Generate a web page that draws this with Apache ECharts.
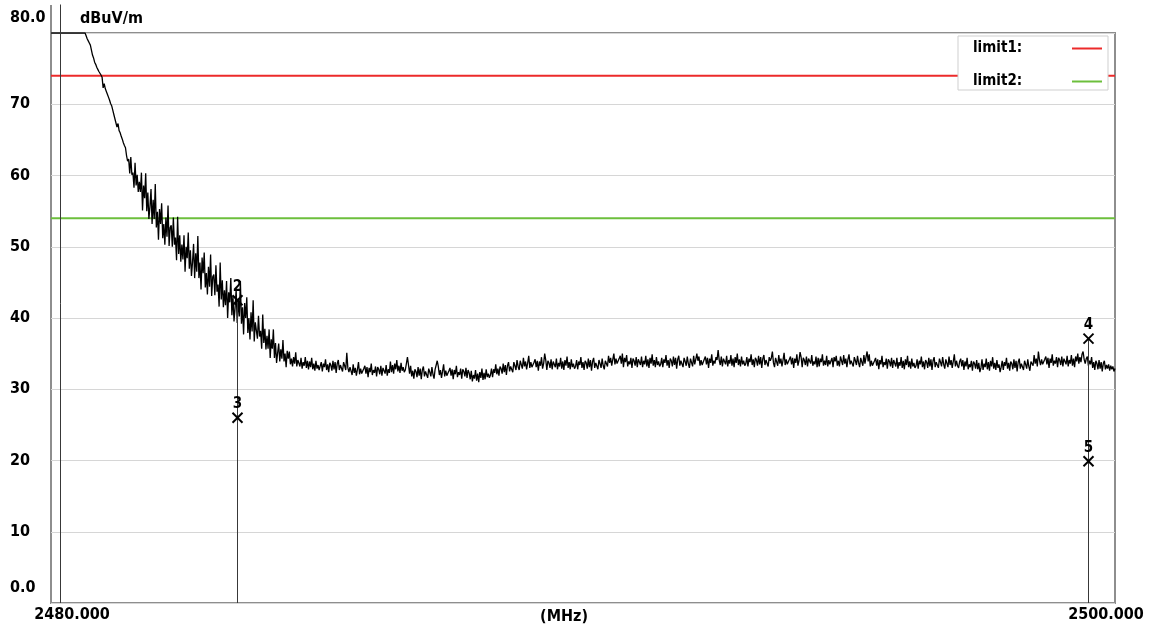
<!DOCTYPE html>
<html>
<head>
<meta charset="utf-8">
<script src="https://cdn.jsdelivr.net/npm/echarts@6/dist/echarts.min.js"></script>
<style>
  html, body { margin: 0; padding: 0; background: #fff; }
  #chart { width: 1149px; height: 629px; }
</style>
</head>
<body>
<div id="chart"></div>
<script>
// Sweep span (MHz); 1001 sweep points, level in dBuV/m (display clamps at 80)
const sweepStart = 2480.0;
const sweepStop = 2500.0;
const level = [
  80, 80, 80, 80, 80, 80, 80, 80, 80, 80, 80, 80, 80, 80, 80, 80, 80, 80, 80, 80,
  80, 80, 80, 80, 80, 80, 80, 80, 80, 80, 80, 80, 80,
  79.6, 79.2, 78.9, 78.6, 78.3, 77.6, 76.9, 76.5, 75.9, 75.6,
  75.2, 74.9, 74.6, 74.4, 74.1, 73.8, 72.3, 72.9, 72.2, 71.8,
  71.4, 71.0, 70.6, 70.1, 69.8, 69.2, 68.6, 68.0, 67.4, 66.8,
  67.3, 66.3, 66.0, 65.5, 65.1, 64.6, 64.2, 63.9, 62.8, 62.0,
  62.3, 60.3, 62.6, 60.1, 60.4, 58.3, 61.8, 58.6, 60.1, 57.7, 59.1, 57.7, 60.4, 55.1, 58.6, 56.8, 60.3, 55.0, 57.6, 53.9,
  55.6, 58.1, 53.2, 56.6, 53.9, 58.8, 52.7, 54.9, 51.0, 55.3, 53.2, 56.1, 51.2, 53.2, 50.3, 54.1, 51.4, 55.8, 50.1, 52.7,
  53.0, 50.0, 54.1, 50.3, 51.3, 48.1, 54.2, 49.0, 51.6, 47.9, 50.3, 48.2, 51.6, 46.5, 50.0, 48.4, 52.0, 46.9, 49.5, 45.9,
  47.8, 50.4, 45.6, 49.1, 46.5, 51.5, 45.6, 47.8, 44.0, 48.5, 46.3, 49.2, 44.3, 46.3, 43.3, 47.2, 44.4, 48.9, 43.1, 45.8,
  46.1, 43.2, 47.4, 43.7, 44.7, 41.6, 47.8, 42.6, 45.3, 41.5, 43.9, 41.8, 45.2, 40.0, 43.6, 42.2, 45.6, 40.4, 43.1, 39.5,
  41.4, 44.0, 39.3, 42.7, 40.2, 45.2, 39.2, 41.5, 37.7, 42.1, 40.0, 42.9, 37.9, 40.0, 37.0, 40.8, 38.1, 42.5, 36.7, 39.4,
  39.4, 37.1, 40.3, 37.4, 38.2, 35.7, 40.5, 36.5, 38.5, 35.6, 37.5, 35.7, 38.4, 34.4, 37.0, 35.7, 38.4, 34.4, 36.5, 33.7,
  35.1, 36.4, 33.9, 35.6, 34.3, 36.9, 33.9, 35.0, 33.1, 35.4, 34.3, 35.3, 33.5, 34.3, 33.2, 34.5, 33.6, 35.2, 33.2, 34.1,
  34.1, 33.2, 34.4, 32.9, 33.8, 33.3, 34.5, 33.0, 34.0, 32.8, 33.9, 33.1, 34.4, 32.8, 33.6, 32.6, 34.0, 32.9, 33.4, 32.7,
  32.9, 33.8, 32.5, 33.6, 33.1, 34.2, 32.7, 33.5, 32.4, 33.7, 33.4, 32.6, 34.0, 32.8, 33.8, 32.3, 33.6, 34.1, 32.7, 33.4,
  33.4, 32.5, 33.8, 33.3, 32.7, 35.1, 33.0, 32.4, 33.1, 32.9, 32.0, 33.5, 32.3, 33.0, 31.9, 32.8, 33.8, 32.1, 32.9, 32.2,
  32.0, 32.9, 33.3, 32.2, 33.1, 31.7, 33.0, 32.4, 33.6, 32.0, 32.7, 32.3, 33.2, 31.8, 33.1, 32.8, 32.1, 33.3, 31.9, 33.0,
  33.1, 32.2, 33.4, 31.9, 32.8, 32.3, 33.9, 32.4, 33.4, 32.2, 33.6, 32.8, 34.1, 32.5, 33.3, 32.3, 33.7, 32.6, 33.1, 32.4,
  32.7, 33.6, 34.5, 33.4, 32.2, 33.3, 31.8, 32.6, 31.5, 32.8, 32.5, 31.7, 33.1, 31.9, 32.9, 31.4, 32.7, 33.2, 31.8, 32.5,
  32.5, 31.6, 32.9, 32.4, 31.8, 33.1, 32.1, 31.5, 32.8, 32.6, 34.0, 33.2, 32.0, 32.7, 31.6, 32.5, 33.5, 31.8, 32.6, 31.9,
  31.7, 32.6, 33.0, 31.9, 32.8, 31.4, 32.7, 32.1, 33.3, 31.7, 32.4, 32.0, 32.9, 31.5, 32.8, 32.5, 31.8, 33.0, 31.6, 32.7,
  32.3, 31.4, 32.6, 31.1, 32.0, 31.5, 32.7, 31.2, 32.2, 31.0, 32.4, 31.6, 32.9, 31.3, 32.3, 31.4, 32.8, 31.7, 32.2, 31.6,
  32.0, 32.9, 31.7, 32.8, 32.3, 33.5, 32.1, 32.9, 31.9, 33.2, 32.9, 32.2, 33.6, 32.4, 33.4, 32.0, 33.3, 33.8, 32.5, 33.2,
  33.3, 32.4, 33.8, 33.3, 32.7, 34.1, 33.2, 32.7, 34.0, 33.8, 32.9, 34.4, 33.2, 33.9, 32.8, 33.7, 34.7, 33.0, 33.8, 33.1,
  32.9, 33.8, 34.2, 33.1, 34.0, 32.6, 33.9, 33.3, 34.5, 32.9, 33.6, 35.0, 34.1, 32.7, 34.0, 33.7, 33.0, 34.2, 32.8, 33.9,
  34.0, 33.1, 34.3, 32.8, 33.7, 33.2, 34.4, 32.9, 33.9, 32.7, 34.1, 33.3, 34.6, 33.0, 33.8, 32.8, 34.2, 33.1, 33.6, 32.9,
  33.2, 34.1, 32.8, 33.9, 33.4, 34.5, 33.0, 33.8, 32.7, 34.0, 33.7, 32.9, 34.3, 33.1, 34.1, 32.6, 33.9, 34.4, 33.0, 33.7,
  33.7, 32.8, 34.1, 33.6, 33.0, 34.3, 33.3, 32.8, 34.0, 33.9, 33.2, 34.7, 33.7, 34.4, 33.3, 34.2, 35.0, 33.5, 34.3, 33.6,
  33.4, 34.3, 34.7, 33.6, 35.0, 33.1, 34.4, 33.8, 34.8, 33.2, 33.9, 33.5, 34.4, 33.0, 34.3, 34.0, 33.3, 34.5, 33.1, 34.2,
  34.3, 33.4, 34.6, 33.1, 34.0, 33.5, 34.7, 33.2, 34.2, 33.0, 34.4, 33.6, 34.9, 33.3, 34.1, 33.1, 34.5, 33.4, 33.9, 33.2,
  33.5, 34.4, 33.1, 34.2, 33.7, 34.8, 33.3, 34.1, 33.0, 34.3, 34.0, 33.2, 34.6, 33.4, 34.4, 32.9, 34.2, 34.7, 33.3, 34.0,
  34.0, 33.1, 34.4, 33.9, 33.3, 34.6, 33.6, 33.0, 34.3, 34.1, 33.2, 34.7, 33.5, 34.2, 35.0, 34.0, 34.6, 33.3, 34.1, 33.4,
  33.3, 34.2, 34.6, 33.5, 34.4, 33.0, 34.3, 33.7, 34.9, 33.3, 34.0, 33.6, 34.5, 34.1, 35.5, 34.1, 33.4, 34.6, 33.2, 34.3,
  34.4, 33.5, 34.7, 33.2, 34.1, 33.6, 34.8, 33.3, 34.3, 33.1, 34.5, 33.7, 35.0, 33.4, 34.2, 33.2, 34.6, 33.5, 34.0, 33.3,
  33.6, 34.5, 33.2, 34.3, 33.8, 34.9, 33.4, 34.2, 33.1, 34.4, 34.1, 33.3, 34.7, 33.5, 34.5, 33.0, 34.3, 34.8, 33.4, 34.1,
  34.1, 33.2, 34.5, 34.0, 34.4, 35.3, 33.7, 33.1, 34.4, 34.2, 33.3, 34.8, 33.6, 34.3, 33.2, 34.1, 35.1, 33.4, 34.2, 33.5,
  33.3, 34.2, 34.6, 33.5, 34.4, 33.0, 34.3, 33.7, 34.9, 33.3, 34.0, 35.2, 34.5, 33.1, 34.4, 34.1, 33.4, 34.6, 33.2, 34.3,
  34.2, 33.6, 34.8, 33.3, 33.9, 33.5, 34.6, 33.1, 34.4, 33.2, 34.3, 33.8, 34.9, 33.3, 34.0, 33.4, 34.7, 33.2, 34.1, 33.5,
  33.7, 34.4, 33.1, 34.5, 33.9, 34.7, 33.3, 34.0, 33.2, 34.6, 34.0, 33.4, 34.8, 33.6, 34.3, 33.1, 34.2, 34.9, 33.5, 34.0,
  34.1, 33.2, 34.5, 34.0, 33.4, 34.7, 33.7, 33.1, 34.4, 34.2, 33.3, 34.8, 33.6, 34.5, 35.3, 33.9, 34.9, 33.2, 34.0, 33.3,
  33.1, 34.0, 34.4, 33.3, 34.2, 32.8, 34.1, 33.5, 34.7, 33.1, 33.8, 33.4, 34.3, 32.9, 34.2, 33.9, 33.2, 34.4, 33.0, 34.1,
  34.1, 33.2, 34.4, 32.9, 33.8, 33.3, 34.5, 33.0, 34.0, 32.8, 34.2, 33.4, 34.7, 33.1, 33.9, 32.9, 34.3, 33.2, 33.7, 33.0,
  33.3, 34.2, 32.9, 34.0, 33.5, 34.6, 33.1, 33.9, 32.8, 34.1, 33.8, 33.0, 34.4, 33.2, 34.2, 32.7, 34.0, 34.5, 33.1, 33.8,
  33.9, 33.0, 34.3, 33.8, 33.2, 34.5, 33.5, 32.9, 34.2, 34.0, 33.1, 34.6, 33.4, 34.1, 33.0, 33.9, 34.9, 33.2, 34.0, 33.3,
  33.0, 33.9, 34.3, 33.2, 34.1, 32.7, 33.9, 33.2, 34.4, 32.8, 33.5, 33.1, 34.0, 32.6, 33.9, 33.6, 32.9, 34.1, 32.8, 33.7,
  32.4, 33.0, 34.2, 32.7, 33.6, 33.1, 34.3, 32.8, 33.8, 32.6, 34.0, 33.2, 34.5, 32.9, 33.7, 32.7, 34.1, 33.0, 33.5, 32.4,
  33.1, 34.0, 32.7, 33.8, 33.3, 34.4, 32.9, 33.7, 32.6, 33.9, 33.6, 32.8, 34.2, 33.0, 34.0, 32.5, 33.8, 34.3, 32.9, 33.6,
  33.6, 32.7, 34.0, 33.5, 32.9, 34.2, 33.2, 32.6, 33.9, 33.7, 33.3, 34.8, 33.6, 34.3, 33.2, 35.3, 34.1, 33.4, 34.2, 33.5,
  33.3, 34.2, 34.6, 33.5, 34.4, 33.0, 34.3, 33.7, 34.9, 33.3, 34.0, 33.6, 34.5, 33.1, 34.4, 34.1, 33.4, 34.6, 33.2, 34.3,
  34.4, 33.5, 34.7, 33.2, 34.1, 33.6, 34.8, 33.3, 34.3, 33.1, 34.6, 33.9, 35.0, 33.6, 34.5, 33.8, 34.9, 35.3, 34.2, 33.6,
  34.3, 34.6, 33.3, 34.0, 33.5, 34.5, 33.0, 33.8, 32.7, 34.0, 33.6, 32.8, 34.1, 32.9, 33.8, 32.5, 33.6, 34.0, 32.8, 33.4,
  32.9, 33.5, 32.6, 33.3, 32.8, 33.2, 32.5, 32.9
];

// Limit lines
const limitNames = ['limit1:', 'limit2:'];
const limitLevels = [74, 54];
const limitColors = ['#ec2a2a', '#6cbf3c'];

// Markers: frequency (MHz), level (dBuV/m), label
const markerFreq = [2480.17, 2483.5, 2483.5, 2499.5, 2499.5];
const markerLevel = [84.0, 42.5, 26.0, 37.1, 19.9];
const markerName = ['1', '2', '3', '4', '5'];

// Axis settings and tick labels
const yMin = 0, yMax = 80, yStep = 10;
const yTickLabels = ['0.0', '10', '20', '30', '40', '50', '60', '70', '80.0'];
const xTickLabels = ['2480.000', '2500.000'];
const yUnit = 'dBuV/m';
const xUnit = '(MHz)';

const FONT = "'DejaVu Sans Condensed', 'DejaVu Sans', sans-serif";

const trace = level.map((v, i) => [
  sweepStart + (sweepStop - sweepStart) * i / (level.length - 1), v
]);

const chart = echarts.init(document.getElementById('chart'), null, { renderer: 'canvas' });

const limitSeries = limitNames.map((name, k) => ({
  name: name,
  type: 'line',
  data: [[sweepStart, limitLevels[k]], [sweepStop, limitLevels[k]]],
  symbol: 'none',
  silent: true,
  lineStyle: { color: limitColors[k], width: 2 },
  itemStyle: { color: limitColors[k] },
  z: 2
}));

const option = {
  backgroundColor: '#ffffff',
  animation: false,
  grid: {
    left: 51, right: 34, top: 33, bottom: 26,
    outerBoundsMode: 'none',
    containLabel: false,
    show: true, borderColor: '#8e8e8e', borderWidth: 2,
    backgroundColor: 'transparent'
  },
  legend: {
    data: limitNames,
    orient: 'vertical',
    left: 958, top: 36,
    align: 'right',
    icon: 'rect',
    itemWidth: 30, itemHeight: 2,
    itemGap: 18,
    padding: [5, 6, 1, 15],
    borderColor: '#cfcfcf', borderWidth: 1,
    backgroundColor: '#ffffff',
    selectedMode: false,
    formatter: name => '{t|' + name + '}',
    textStyle: {
      rich: {
        t: { width: 94, align: 'left', fontFamily: FONT, fontWeight: 'bold', fontSize: 15, color: '#000' }
      }
    }
  },
  xAxis: {
    type: 'value',
    min: sweepStart, max: sweepStop, interval: sweepStop - sweepStart,
    name: xUnit,
    nameLocation: 'middle',
    nameGap: 14,
    nameMoveOverlap: false,
    nameTextStyle: {
      fontFamily: FONT, fontWeight: 'bold', fontSize: 16, color: '#000',
      verticalAlign: 'middle', padding: [0, 38, 0, 0]
    },
    axisLine: { show: false },
    axisTick: { show: false },
    splitLine: { show: false },
    axisLabel: {
      margin: 4,
      fontFamily: FONT, fontWeight: 'bold', fontSize: 16, color: '#000',
      formatter: v => (v === sweepStart ? '{a|' + xTickLabels[0] + '}' : '{b|' + xTickLabels[1] + '}'),
      rich: {
        a: { fontFamily: FONT, fontWeight: 'bold', fontSize: 16, color: '#000', padding: [0, 0, 0, 42] },
        b: { fontFamily: FONT, fontWeight: 'bold', fontSize: 16, color: '#000', padding: [0, 18, 0, 0] }
      }
    }
  },
  yAxis: {
    type: 'value',
    min: yMin, max: yMax, interval: yStep,
    name: yUnit,
    nameLocation: 'end',
    nameGap: 14,
    nameMoveOverlap: false,
    nameTextStyle: {
      fontFamily: FONT, fontWeight: 'bold', fontSize: 16, color: '#000',
      align: 'left', verticalAlign: 'middle', padding: [0, 0, 0, 29]
    },
    axisLine: { show: false },
    axisTick: { show: false },
    splitLine: { show: true, lineStyle: { color: '#d6d6d6', width: 1 } },
    axisLabel: {
      align: 'left',
      margin: 41,
      fontFamily: FONT, fontWeight: 'bold', fontSize: 16, color: '#000',
      formatter: v => {
        const t = yTickLabels[Math.round((v - yMin) / yStep)];
        return (v === yMin || v === yMax) ? '{e|' + t + '}' : t;
      },
      rich: {
        e: { fontFamily: FONT, fontWeight: 'bold', fontSize: 16, color: '#000', padding: [0, 0, 30, 0] }
      }
    }
  },
  graphic: [
    // left frame edge continues above the plot top
    { type: 'line', shape: { x1: 51, y1: 5, x2: 51, y2: 33 }, style: { stroke: '#8e8e8e', lineWidth: 2 }, silent: true }
  ],
  series: [
    ...limitSeries,
    {
      name: 'trace',
      type: 'line',
      data: trace,
      symbol: 'none',
      silent: true,
      clip: true,
      lineStyle: { color: '#000000', width: 1.3 },
      z: 3
    },
    {
      name: 'markers',
      type: 'custom',
      silent: true,
      clip: false,
      z: 4,
      data: markerFreq.map((f, k) => [f, markerLevel[k]]),
      renderItem: (params, api) => {
        const f = api.value(0), v = api.value(1);
        const p = api.coord([f, v]);
        const b = api.coord([f, 0]);
        const x = Math.round(p[0]) + 0.5;
        const children = [{
          type: 'line',
          shape: { x1: x, y1: p[1], x2: x, y2: b[1] },
          style: { stroke: '#383838', lineWidth: 1 }
        }];
        if (v <= yMax) {
          const s = 5;
          children.push(
            { type: 'line', shape: { x1: x - s, y1: p[1] - s, x2: x + s, y2: p[1] + s }, style: { stroke: '#000', lineWidth: 2 } },
            { type: 'line', shape: { x1: x - s, y1: p[1] + s, x2: x + s, y2: p[1] - s }, style: { stroke: '#000', lineWidth: 2 } },
            { type: 'text', style: {
                text: markerName[params.dataIndex], x: x, y: p[1] - 6,
                align: 'center', verticalAlign: 'bottom',
                font: 'bold 15px ' + FONT, fill: '#000'
            } }
          );
        }
        return { type: 'group', children };
      }
    }
  ]
};

chart.setOption(option);
</script>
</body>
</html>
